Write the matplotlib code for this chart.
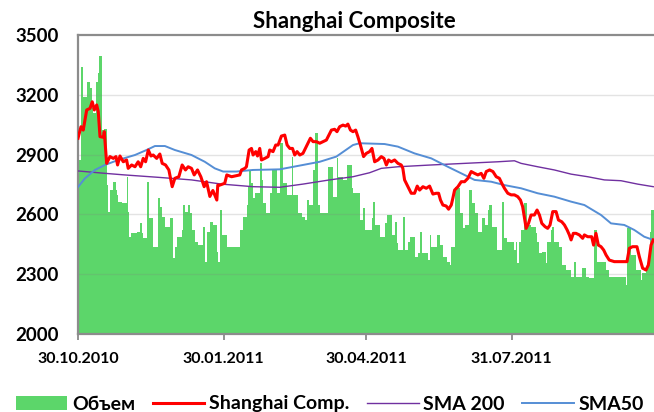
import numpy as np
import pandas as pd
import matplotlib
matplotlib.use("Agg")
import matplotlib.pyplot as plt
from matplotlib.patches import Patch
from matplotlib.lines import Line2D

plt.rcParams['font.family'] = ['Lato', 'DejaVu Sans']
plt.rcParams['font.weight'] = 'bold'

start = pd.Timestamp('2010-10-30')

# Shanghai Composite close (days after 30.10.2010, index points)
close_day = [0.0, 1.9, 3.3, 5.5, 7.6, 9.0, 10.3, 11.8, 12.8, 13.9, 16.0, 16.6, 18.1, 20.2,
             22.3, 24.0, 25.0, 26.5, 28.6, 30.7, 31.7, 33.9, 36.0, 38.0, 39.6, 41.2, 42.7,
             44.4, 46.1, 47.5, 49.7, 51.7, 53.2, 55.3, 57.4, 59.5, 61.2, 63.7, 65.8, 67.9,
             69.6, 71.7, 73.4, 75.5, 77.6, 79.7, 81.2, 83.3, 85.2, 87.7, 88.3, 89.6, 92.7,
             94.0, 97.0, 102.2, 103.3, 105.4, 106.4, 108.1, 109.6, 110.6, 112.3, 113.4,
             114.8, 115.9, 118.0, 120.1, 121.1, 123.2, 124.9, 126.4, 128.5, 130.6, 132.1,
             133.8, 135.5, 136.9, 138.4, 140.1, 142.1, 144.7, 146.8, 148.5, 150.6, 152.7,
             154.8, 156.9, 160.1, 162.1, 163.6, 165.3, 167.4, 169.1, 170.5, 172.1, 173.7,
             175.4, 176.8, 178.4, 180.4, 182.1, 184.2, 185.7, 187.4, 189.5, 191.6, 193.3,
             194.8, 196.2, 197.9, 200.0, 202.1, 204.2, 205.2, 206.3, 208.4, 210.5, 212.6,
             214.3, 215.8, 217.9, 220.0, 222.1, 224.2, 226.3, 227.8, 229.0, 230.5, 232.6,
             234.1, 235.8, 236.8, 237.9, 240.0, 242.1, 244.2, 246.3, 248.4, 250.5, 252.6,
             254.7, 256.4, 257.9, 260.0, 262.1, 264.2, 266.2, 267.7, 269.4, 271.5, 273.6,
             275.7, 277.8, 279.5, 280.9, 283.1, 284.6, 286.2, 288.3, 290.0, 291.5, 293.0,
             295.1, 296.7, 298.2, 299.9, 302.0, 303.5, 305.6, 307.3, 309.0, 310.4, 311.5,
             312.9, 314.6, 316.7, 318.8, 319.9, 322.0, 324.5, 325.7, 327.2, 328.7, 330.4,
             332.1, 333.6, 335.6, 338.8, 342.0, 346.8, 348.3, 350.3, 353.1, 354.6, 356.7,
             358.8, 360.3, 362.0, 363.4]
close_val = [2982, 3040, 3023, 3124, 3132, 3165, 3124, 3149, 3115, 2990, 2987, 3015, 2856, 2890,
             2881, 2890, 2848, 2893, 2864, 2873, 2831, 2848, 2839, 2864, 2839, 2881, 2864,
             2923, 2893, 2898, 2881, 2903, 2856, 2848, 2823, 2739, 2781, 2789, 2848, 2823,
             2839, 2831, 2798, 2823, 2789, 2739, 2764, 2690, 2720, 2672, 2747, 2747, 2756,
             2798, 2789, 2798, 2823, 2831, 2839, 2923, 2931, 2898, 2915, 2893,
             2931, 2873, 2881, 2890, 2923, 2915, 2948, 2948, 2993, 2998, 2948,
             2931, 2931, 2898, 2915, 2898, 2906, 2948, 2982, 2965, 2965, 2957,
             2965, 2973, 3023, 3027, 3015, 3040, 3048, 3043, 3053, 3023, 3015,
             3023, 2990, 2948, 2890, 2906, 2915, 2931, 2864, 2873, 2890, 2881,
             2848, 2873, 2864, 2873, 2856, 2848, 2831, 2773, 2739, 2706, 2706,
             2742, 2722, 2739, 2731, 2742, 2702, 2706, 2706, 2672, 2647, 2642,
             2626, 2647, 2681, 2722, 2739, 2764, 2764, 2781, 2815, 2806, 2798,
             2806, 2781, 2815, 2823, 2815, 2789, 2781, 2756, 2731, 2706, 2698,
             2698, 2689, 2672, 2639, 2530, 2555, 2597, 2597, 2622, 2597, 2555,
             2538, 2530, 2547, 2614, 2614, 2572, 2563, 2547, 2522, 2497, 2472,
             2505, 2505, 2497, 2480, 2497, 2488, 2488, 2446, 2505, 2446, 2438,
             2421, 2396, 2371, 2363, 2363, 2363, 2430, 2438, 2438, 2388, 2330,
             2321, 2346, 2446, 2472]

# SMA 50
sma50_day = [0.2, 4.4, 10.7, 17.0, 25.4, 36.0, 43.3, 48.6, 54.9, 61.2, 71.7, 80.1, 86.4, 91.7,
             100.1, 110.6, 127.4, 142.1, 152.7, 163.2, 173.7, 177.9, 193.7, 202.1, 212.6,
             223.2, 233.6, 242.1, 250.5, 261.0, 269.4, 279.9, 290.4, 300.9, 311.5, 319.9,
             330.4, 336.7, 345.1, 351.4, 357.7, 363.4]
sma50_val = [2739, 2781, 2823, 2848, 2873, 2898, 2923, 2943, 2943, 2923, 2898, 2864, 2831, 2815,
             2815, 2823, 2826, 2848, 2864, 2890, 2948, 2957, 2953, 2940, 2906,
             2881, 2839, 2806, 2773, 2764, 2747, 2731, 2706, 2689, 2664, 2647,
             2597, 2555, 2547, 2522, 2488, 2472]

# SMA 200
sma200_day = [0.0, 17.0, 29.5, 50.7, 71.7, 90.7, 110.6, 127.4, 142.1, 158.9, 173.7, 184.2,
              191.6, 202.1, 223.2, 244.2, 265.2, 275.7, 279.9, 290.4, 300.9, 311.5, 322.0,
              332.5, 343.0, 353.5, 363.4]
sma200_val = [2818, 2806, 2798, 2786, 2773, 2752, 2739, 2736, 2752, 2773, 2789, 2809,
              2831, 2839, 2848, 2856, 2864, 2869, 2856, 2839, 2823, 2802, 2789,
              2773, 2769, 2752, 2739]

# volume (drawn in the price scale, step start day -> level)
vol_day = [0.0, 1.9, 3.3, 5.5, 7.6, 8.6, 9.6, 11.2, 12.4, 13.2, 15.3, 16.6, 18.1, 19.1, 20.2,
           22.1, 23.8, 24.4, 25.4, 27.6, 30.7, 31.7, 32.2, 33.4, 37.0, 39.1, 40.2, 41.2, 43.3,
           44.8, 47.5, 50.7, 51.7, 53.2, 54.9, 58.0, 60.1, 61.2, 62.3, 65.4, 66.4, 67.5, 69.6,
           70.7, 72.1, 73.8, 75.9, 79.1, 80.1, 81.2, 83.3, 85.4, 87.5, 88.5, 89.6, 90.7, 94.0,
           102.2, 104.1, 106.6, 107.3, 107.9, 109.1, 110.4, 111.7, 114.8, 116.1, 116.7, 118.6,
           121.1, 122.4, 125.6, 127.4, 129.3, 131.9, 135.0, 136.0, 138.8, 141.3, 143.2, 144.5,
           145.7, 148.3, 149.5, 151.4, 152.7, 157.7, 160.9, 163.4, 164.4, 167.2, 170.0, 172.9,
           173.5, 177.9, 179.8, 181.1, 185.5, 186.1, 187.4, 190.5, 193.7, 195.0, 198.1, 200.0,
           201.3, 201.9, 205.0, 206.3, 208.2, 209.5, 212.6, 214.5, 215.8, 217.0, 220.8, 222.1,
           223.3, 226.5, 227.1, 228.4, 230.3, 233.4, 234.7, 235.9, 237.9, 239.1, 241.0, 242.9,
           244.2, 247.3, 248.6, 250.5, 252.4, 255.5, 256.8, 258.7, 259.9, 261.8, 264.4, 265.0,
           268.1, 269.4, 271.3, 275.7, 276.9, 277.6, 278.9, 280.1, 282.0, 283.9, 286.4, 289.6,
           290.2, 291.5, 293.4, 295.9, 296.5, 299.1, 299.7, 300.9, 304.1, 306.0, 308.5, 311.7,
           313.6, 314.8, 318.6, 321.1, 323.0, 326.2, 328.1, 331.2, 333.8, 335.6, 346.4, 347.0,
           349.5, 352.7, 355.8, 356.5, 359.0, 360.3, 361.5, 362.1, 364.0]
vol_val = [2873, 3341, 3190, 3266, 3232, 3134, 3108, 3266, 3309, 3394, 3023, 3030, 2747, 2614, 2722,
           2764, 2722, 2698, 2664, 2657, 2789, 2614, 2488, 2505, 2513, 2555, 2505, 2480, 2764,
           2580, 2438, 2681, 2639, 2589, 2538, 2580, 2380, 2438, 2488, 2522, 2647, 2614, 2647,
           2605, 2522, 2463, 2447, 2538, 2363, 2513, 2564, 2547, 2413, 2363, 2622, 2497, 2438,
           2522, 2589, 2647, 2739, 2823, 2760, 2681, 2706, 2856, 2773, 2655, 2605,
           2706, 2823, 2706, 2957, 2756, 2698, 2890, 2698, 2605, 2589, 2572, 2672,
           2647, 2823, 3007, 2647, 2605, 2839, 2689, 2881, 2789, 2773, 2848, 2731,
           2706, 2572, 2630, 2522, 2580, 2664, 2547, 2488, 2555, 2597, 2497, 2564,
           2455, 2422, 2589, 2422, 2463, 2488, 2388, 2405, 2513, 2405, 2372, 2497,
           2438, 2372, 2497, 2447, 2388, 2363, 2346, 2438, 2739, 2731, 2605, 2530,
           2547, 2722, 2655, 2605, 2513, 2580, 2547, 2622, 2647, 2538, 2480, 2422,
           2664, 2480, 2463, 2422, 2463, 2355, 2463, 2522, 2655, 2547, 2538, 2505,
           2463, 2405, 2413, 2355, 2463, 2522, 2538, 2463, 2438, 2346, 2321, 2288,
           2363, 2288, 2330, 2288, 2280, 2522, 2363, 2363, 2321, 2288, 2246, 2530,
           2397, 2321, 2271, 2305, 2338, 2346, 2513, 2622]

date_ticks = ['2010-10-30', '2011-01-30', '2011-04-30', '2011-07-31']
tick_labels = ['30.10.2010', '30.01.2011', '30.04.2011', '31.07.2011']
y_ticks = [2000, 2300, 2600, 2900, 3200, 3500]


def to_dates(days):
    return start + pd.to_timedelta(np.array(days), unit='D')


green = '#5CD66A'
red = '#FF0000'
blue = '#558ED5'
purple = '#7030A0'

fig = plt.figure(figsize=(6.54, 4.12), dpi=100)
ax = fig.add_axes([78/654, 1 - 334/412, 1 - 78/654 + 0.01, (334 - 35)/412])

vd = to_dates(vol_day)
widths = np.diff(vd)
ax.bar(vd[:-1], np.array(vol_val) - 2000, bottom=2000, width=widths, align='edge',
       color=green, edgecolor='none', linewidth=0, zorder=1)

for yv in y_ticks[1:-1]:
    ax.axhline(yv, color='#808080', alpha=0.22, lw=1.0, zorder=2)

ax.plot(to_dates(sma200_day), sma200_val, color=purple, lw=1.0, zorder=3)
ax.plot(to_dates(sma50_day), sma50_val, color=blue, lw=1.4, zorder=3)
ax.plot(to_dates(close_day), close_val, color=red, lw=2.2, zorder=4, solid_joinstyle='round')

ax.set_ylim(2000, 3500)
ax.set_xlim(start, start + pd.Timedelta(days=368))
ax.set_yticks(y_ticks)
ax.set_yticklabels([str(v) for v in y_ticks], fontsize=13.5, fontweight='bold')
ax.tick_params(axis='y', length=0, pad=14)
ax.set_xticks(pd.to_datetime(date_ticks))
ax.set_xticklabels(tick_labels, fontsize=11.5, fontweight='bold')
ax.tick_params(axis='x', length=4, width=1.2, color='#808080', pad=9)

for s in ['left', 'bottom', 'top']:
    ax.spines[s].set_color('#8C8C8C')
    ax.spines[s].set_linewidth(1.6)
ax.spines['right'].set_visible(False)

fig.text(354/654, 1 - 22/412, 'Shanghai Composite', ha='center', va='center',
         fontsize=16, fontweight='bold')

handles = [Patch(facecolor=green, edgecolor='none'),
           Line2D([], [], color=red, lw=2.2),
           Line2D([], [], color=purple, lw=1.0),
           Line2D([], [], color=blue, lw=1.4)]
labels = ['Объем', 'Shanghai Comp.', 'SMA 200', 'SMA50']
fig.legend(handles, labels, loc='center', bbox_to_anchor=(330/654, 1 - 404/412), ncol=4,
           frameon=False, prop={'size': 14, 'weight': 'bold'}, handlelength=2.65,
           handleheight=0.7, handletextpad=0.25, columnspacing=0.9, borderaxespad=0,
           borderpad=0)

fig.savefig('out.png', dpi=100)
